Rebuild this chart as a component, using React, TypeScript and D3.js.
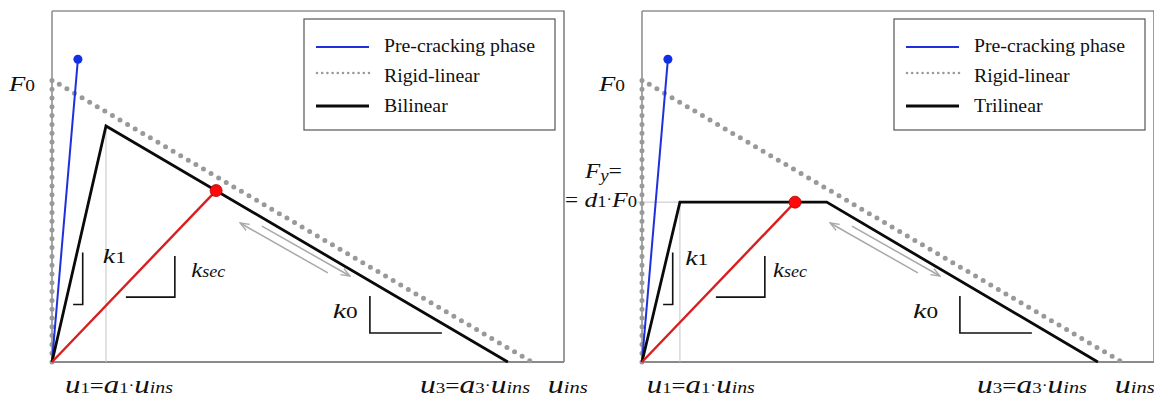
import React from "react";
import * as d3 from "d3";

type Pt = [number, number];

// axes in normalised units: u / u_ins and F / F0
const U_MAX = 1.067;
const F_MAX = 1.245;

const PRE_CRACKING: Pt[] = [[0, 0], [0.054, 1.074]];
const RIGID_LINEAR: Pt[] = [[0, 0], [0, 1], [1, 0]];
const BILINEAR: Pt[] = [[0, 0], [0.1125, 0.837], [0.95, 0]];
const TRILINEAR: Pt[] = [[0, 0], [0.079, 0.567], [0.385, 0.567], [0.95, 0]];
const SECANT_BILINEAR: Pt = [0.342, 0.608];
const SECANT_TRILINEAR: Pt = [0.319, 0.567];

// unloading / reloading arrows (tail, head)
const ARROW_BACK: Pt[] = [[0.575, 0.316], [0.392, 0.493]];
const ARROW_FWD: Pt[] = [[0.4375, 0.482], [0.621, 0.305]];

// slope markers
const SLOPE_K1: Pt[] = [[0.064, 0.388], [0.064, 0.204], [0.044, 0.204]];
const SLOPE_KSEC: Pt[] = [[0.256, 0.376], [0.256, 0.23], [0.154, 0.23]];
const SLOPE_K0: Pt[] = [[0.6625, 0.234], [0.6625, 0.103], [0.8125, 0.103]];

const LEGEND_LABELS = ["Pre-cracking phase", "Rigid-linear"];

const SERIF = "'Liberation Serif', 'Times New Roman', serif";

interface Part {
  t: string;
  it?: boolean;
  fs: number;
  dy?: number;
}

function MathText({ x, y, parts, len }: { x: number; y: number; parts: Part[]; len?: number }) {
  let shift = 0;
  return (
    <text
      x={x}
      y={y}
      style={{ fontFamily: SERIF, fontSize: 20 }}
      fill="#111"
      textLength={len}
      lengthAdjust={len ? "spacingAndGlyphs" : undefined}
    >
      {parts.map((p, i) => {
        const target = p.dy ?? 0;
        const dy = target - shift;
        shift = target;
        return (
          <tspan
            key={i}
            style={{ fontSize: `${p.fs}px`, fontStyle: p.it ? "italic" : "normal" }}
            dy={dy || undefined}
          >
            {p.t}
          </tspan>
        );
      })}
    </text>
  );
}

const sub = (t: string): Part => ({ t, fs: 16 });
const U_LABEL = (n: string): Part[] => [
  { t: "u", it: true, fs: 25 },
  { t: n, fs: 15 },
  { t: "=", fs: 20 },
  { t: "a", it: true, fs: 25 },
  { t: n, fs: 15 },
  { t: "·", fs: 14, dy: -3 },
  { t: "u", it: true, fs: 25 },
  { t: "ins", it: true, fs: 16 },
];

interface PanelProps {
  id: string;
  x0: number;
  curve: Pt[];
  secant: Pt;
  name: string;
  k1At: Pt;
  ksecAt: Pt;
  k0At: Pt;
  u1At: number;
  u3At: number;
  uinsAt: number;
  yieldLabel?: boolean;
}

function Panel(p: PanelProps) {
  const x = d3.scaleLinear().domain([0, U_MAX]).range([p.x0, p.x0 + 512]);
  const y = d3.scaleLinear().domain([0, F_MAX]).range([362, 11]);
  const line = d3.line<Pt>().x((d) => x(d[0])).y((d) => y(d[1]));
  const knee = p.curve[1];
  const arrowId = `arrow-${p.id}`;
  const lx = p.x0 + 252;

  return (
    <g>
      <defs>
        <marker id={arrowId} viewBox="0 0 10 10" refX={9} refY={5} markerWidth={10} markerHeight={10} orient="auto" markerUnits="userSpaceOnUse">
          <path d="M0,1.5 L9,5 L0,8.5" fill="none" stroke="#a8a8a8" strokeWidth={1.3} />
        </marker>
      </defs>

      {/* frame */}
      <path
        d={`M${x(0)},${y(F_MAX)} H${x(U_MAX)} V${y(0)}`}
        fill="none"
        stroke="#5a5a5a"
        strokeWidth={1.2}
      />
      <line x1={x(0)} x2={x(U_MAX)} y1={y(0)} y2={y(0)} stroke="#8a8a8a" strokeWidth={2} />
      <line x1={x(0)} x2={x(0)} y1={y(0)} y2={y(F_MAX)} stroke="#8a8a8a" strokeWidth={1.5} />

      {/* guide lines to the knee */}
      <line x1={x(knee[0])} x2={x(knee[0])} y1={y(0)} y2={y(knee[1])} stroke="#c4c4c4" strokeWidth={1} />
      {p.yieldLabel && (
        <line x1={x(-0.01)} x2={x(knee[0])} y1={y(knee[1])} y2={y(knee[1])} stroke="#c4c4c4" strokeWidth={1} />
      )}

      {/* rigid-linear */}
      <path d={line(RIGID_LINEAR) || ""} fill="none" stroke="#999" strokeWidth={5} strokeLinecap="round" strokeDasharray="0 8.8" />

      {/* pre-cracking */}
      <path d={line(PRE_CRACKING) || ""} fill="none" stroke="#1f2fe0" strokeWidth={2} />
      <circle cx={x(PRE_CRACKING[1][0])} cy={y(PRE_CRACKING[1][1])} r={4.5} fill="#1030e8" />

      {/* slope markers */}
      {[SLOPE_K1, SLOPE_KSEC, SLOPE_K0].map((s, i) => (
        <path key={i} d={line(s) || ""} fill="none" stroke="#111" strokeWidth={1.6} />
      ))}

      {/* arrows */}
      <path d={line(ARROW_BACK) || ""} stroke="#a8a8a8" strokeWidth={1.5} markerEnd={`url(#${arrowId})`} />
      <path d={line(ARROW_FWD) || ""} stroke="#a8a8a8" strokeWidth={1.5} markerEnd={`url(#${arrowId})`} />

      {/* model curve */}
      <path d={line(p.curve) || ""} fill="none" stroke="#0a0a0a" strokeWidth={2.8} strokeLinejoin="miter" />

      {/* secant */}
      <path d={line([[0, 0], p.secant]) || ""} fill="none" stroke="#d81e1e" strokeWidth={2.4} />
      <circle cx={x(p.secant[0])} cy={y(p.secant[1])} r={6} fill="#ff0a0a" stroke="#a00" strokeWidth={0.8} />

      {/* labels */}
      <MathText x={x(0) - 43} y={y(1) + 11} parts={[{ t: "F", it: true, fs: 22 }, sub("0")]} len={26} />
      {p.yieldLabel && (
        <>
          <MathText x={x(0) - 57} y={y(knee[1]) - 24} parts={[{ t: "F", it: true, fs: 21 }, { t: "y", it: true, fs: 16, dy: 3 }, { t: "=", fs: 20 }]} len={37} />
          <MathText x={x(0) - 77} y={y(knee[1]) + 5} parts={[{ t: "=", fs: 20 }, { t: " d", it: true, fs: 22 }, sub("1"), { t: "·", fs: 14, dy: -3 }, { t: "F", it: true, fs: 22 }, sub("0")]} len={72} />
        </>
      )}
      <MathText x={x(p.k1At[0])} y={y(p.k1At[1])} parts={[{ t: "k", it: true, fs: 22 }, { t: "1", fs: 17 }]} len={23} />
      <MathText x={x(p.ksecAt[0])} y={y(p.ksecAt[1])} parts={[{ t: "k", it: true, fs: 22 }, { t: "sec", it: true, fs: 16 }]} len={34} />
      <MathText x={x(p.k0At[0])} y={y(p.k0At[1])} parts={[{ t: "k", it: true, fs: 22 }, { t: "0", fs: 17 }]} len={25} />
      <MathText x={x(p.u1At)} y={393} parts={U_LABEL("1")} len={108} />
      <MathText x={x(p.u3At)} y={393} parts={U_LABEL("3")} len={110} />
      <MathText x={x(p.uinsAt)} y={393} parts={[{ t: "u", it: true, fs: 25 }, { t: "ins", it: true, fs: 16 }]} len={40} />

      {/* legend */}
      <rect x={lx} y={19} width={251} height={111} fill="#fff" stroke="#555" strokeWidth={1.2} />
      <line x1={lx + 12} x2={lx + 65} y1={47} y2={47} stroke="#1f2fe0" strokeWidth={2} />
      <line x1={lx + 13} x2={lx + 65} y1={73} y2={73} stroke="#9a9a9a" strokeWidth={2.6} strokeLinecap="round" strokeDasharray="0 5.2" />
      <line x1={lx + 12} x2={lx + 65} y1={106} y2={106} stroke="#0a0a0a" strokeWidth={2.8} />
      {[...LEGEND_LABELS, p.name].map((t, i) => (
        <text key={t} x={lx + 80} y={52 + i * 30} style={{ fontFamily: SERIF, fontSize: 19.8 }} fill="#111">
          {t}
        </text>
      ))}
    </g>
  );
}

export default function App() {
  return (
    <div style={{ position: "fixed", left: 0, top: 0 }}>
      <svg width={1154} height={399} style={{ display: "block", background: "#fff" }}>
        <Panel
          id="bi"
          x0={52}
          curve={BILINEAR}
          secant={SECANT_BILINEAR}
          name="Bilinear"
          k1At={[0.106, 0.351]}
          ksecAt={[0.29, 0.3]}
          k0At={[0.585, 0.156]}
          u1At={0.027}
          u3At={0.767}
          uinsAt={1.033}
        />
        <Panel
          id="tri"
          x0={642}
          curve={TRILINEAR}
          secant={SECANT_TRILINEAR}
          name="Trilinear"
          k1At={[0.09, 0.344]}
          ksecAt={[0.273, 0.3]}
          k0At={[0.565, 0.156]}
          u1At={0.01}
          u3At={0.698}
          uinsAt={0.985}
          yieldLabel
        />
      </svg>
    </div>
  );
}
